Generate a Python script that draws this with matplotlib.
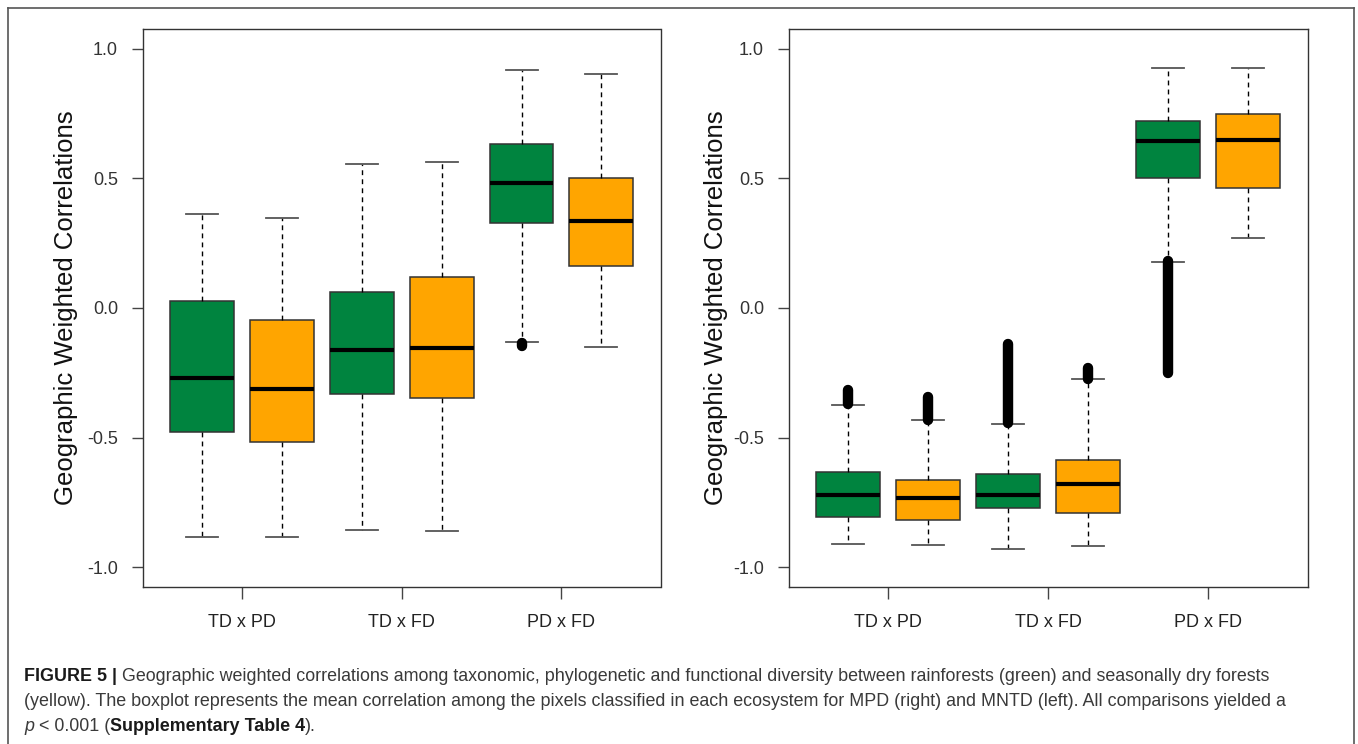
import matplotlib
matplotlib.use("Agg")
import matplotlib.pyplot as plt
from matplotlib.lines import Line2D

# ---------------- data ----------------
groups = ["TD x PD", "TD x FD", "PD x FD"]
ytick_vals = [-1.0, -0.5, 0.0, 0.5, 1.0]
ytick_labels = ["-1.0", "-0.5", "0.0", "0.5", "1.0"]

# five-number summaries: [lower whisker, Q1, median, Q3, upper whisker]
mntd_rainforest = [[-0.884, -0.480, -0.271, 0.027, 0.364],
                   [-0.857, -0.331, -0.161, 0.062, 0.554],
                   [-0.130, 0.329, 0.483, 0.635, 0.918]]
mntd_dry = [[-0.884, -0.516, -0.313, -0.048, 0.346],
            [-0.859, -0.348, -0.155, 0.121, 0.564],
            [-0.151, 0.164, 0.336, 0.503, 0.902]]
mpd_rainforest = [[-0.910, -0.806, -0.721, -0.635, -0.375],
                  [-0.932, -0.773, -0.721, -0.642, -0.446],
                  [0.176, 0.502, 0.646, 0.721, 0.927]]
mpd_dry = [[-0.914, -0.818, -0.733, -0.663, -0.433],
           [-0.918, -0.790, -0.679, -0.585, -0.276],
           [0.269, 0.465, 0.650, 0.747, 0.927]]

# ranges covered by the (very dense) outlier points: [low, high] or None
mntd_rain_out = [None, None, [-0.148, -0.135]]
mntd_dry_out = [None, None, None]
mpd_rain_out = [[-0.372, -0.318], [-0.445, -0.140], [-0.250, 0.180]]
mpd_dry_out = [[-0.432, -0.344], [-0.275, -0.230], None]

GREEN = "#00843f"
ORANGE = "#ffa500"
EDGE = "#333333"

SANS = ["Liberation Sans", "DejaVu Sans"]

W, H = 1358, 744
fig = plt.figure(figsize=(W / 100, H / 100), dpi=100)


def fx(px):
    return px / W


def fy(py):
    return 1 - py / H


def panel(rect, rain, dry, rain_out, dry_out, label_x):
    ax = fig.add_axes(rect)
    stats, positions, colors, outs = [], [], [], []
    for i in range(len(groups)):
        for j, (src, col, osrc) in enumerate([(rain, GREEN, rain_out), (dry, ORANGE, dry_out)]):
            lo, q1, med, q3, hi = src[i]
            stats.append(dict(whislo=lo, q1=q1, med=med, q3=q3, whishi=hi, fliers=[]))
            positions.append(2 * i + j + 1)
            colors.append(col)
            outs.append(osrc[i])
    bp = ax.bxp(stats, positions=positions, widths=0.8, capwidths=0.4,
                patch_artist=True, showfliers=False,
                boxprops=dict(edgecolor=EDGE, linewidth=1.1),
                whiskerprops=dict(color="black", linewidth=1.0, linestyle=(0, (3.5, 3.0))),
                capprops=dict(color="#555555", linewidth=1.3),
                medianprops=dict(color="black", linewidth=3.0, solid_capstyle="butt"))
    for patch, c in zip(bp["boxes"], colors):
        patch.set_facecolor(c)
    for pos, o in zip(positions, outs):
        if o is not None:
            ax.vlines(pos, o[0], o[1], color="black", linewidth=7.5,
                      capstyle="round", zorder=4)
    ax.set_xlim(0.26, 6.74)
    ax.set_ylim(-1.077, 1.077)
    ax.set_yticks(ytick_vals)
    ax.set_yticklabels(ytick_labels, family=SANS, fontsize=13, color="#333333")
    ax.set_xticks([1.5, 3.5, 5.5])
    ax.set_xticklabels(groups, family=SANS, fontsize=13, color="#222222")
    ax.tick_params(axis="y", length=8, width=1, color="#444444", pad=10)
    ax.tick_params(axis="x", length=8.5, width=1, color="#444444", pad=11)
    for s in ax.spines.values():
        s.set_color("#333333")
        s.set_linewidth(1.0)
    ax.set_ylabel("Geographic Weighted Correlations", family=SANS, fontsize=18.5,
                  color="#111111")
    ax.yaxis.set_label_coords(label_x, 0.5)
    return ax


top, bot = 29, 587
panel([fx(143), fy(bot), fx(660.5) - fx(143), fy(top) - fy(bot)],
      mntd_rainforest, mntd_dry, mntd_rain_out, mntd_dry_out, -0.125)
panel([fx(789), fy(bot), fx(1307.5) - fx(789), fy(top) - fy(bot)],
      mpd_rainforest, mpd_dry, mpd_rain_out, mpd_dry_out, -0.118)

# outer frame (bottom edge lies outside the image)
for xs, ys in [([fx(8), fx(8)], [fy(8), 0]), ([fx(1354), fx(1354)], [fy(8), 0]),
               ([fx(8), fx(1354)], [fy(8), fy(8)])]:
    fig.add_artist(Line2D(xs, ys, color="#555555", linewidth=1.2))

# caption
CAP = 12.9
renderer = fig.canvas.get_renderer()


def write_line(pieces, x_px, base_px):
    x = x_px
    for txt, kw in pieces:
        t = fig.text(fx(x), fy(base_px), txt, fontsize=CAP, family=SANS,
                     va="baseline", ha="left", **kw)
        bb = t.get_window_extent(renderer=renderer)
        x += bb.width


regular = dict(color="#3a3a3a")
bold = dict(color="#1a1a1a", weight="bold")
ital = dict(color="#3a3a3a", style="italic")

write_line([("FIGURE 5 | ", bold),
            ("Geographic weighted correlations among taxonomic, phylogenetic and functional "
             "diversity between rainforests (green) and seasonally dry forests", regular)],
           24, 681)
write_line([("(yellow). The boxplot represents the mean correlation among the pixels classified "
             "in each ecosystem for MPD (right) and MNTD (left). All comparisons yielded a", regular)],
           24, 706)
write_line([("p", ital), (" < 0.001 (", regular), ("Supplementary Table 4", bold),
            (").", regular)], 24, 731)

fig.savefig("out.png", dpi=100)
